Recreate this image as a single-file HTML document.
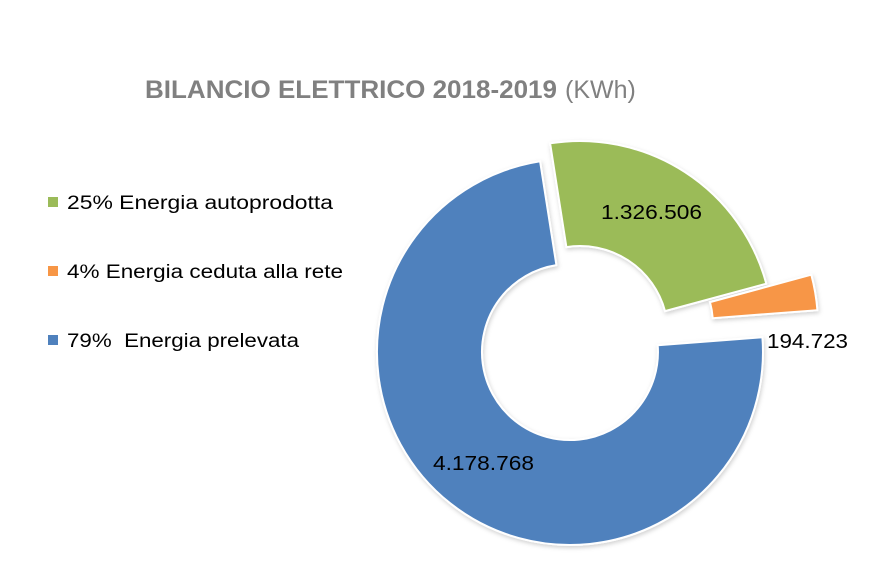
<!DOCTYPE html>
<html><head><meta charset="utf-8"><style>
body{margin:0;background:#fff;}
svg{display:block;font-family:"Liberation Sans",sans-serif;}
</style></head><body>
<svg width="888" height="575" viewBox="0 0 888 575">
<defs><filter id="sh" x="-10%" y="-10%" width="120%" height="120%"><feDropShadow dx="1" dy="2" stdDeviation="2" flood-color="#000" flood-opacity="0.18"/></filter></defs>
<text x="145" y="98" font-size="25" fill="#808080"><tspan font-weight="bold" textLength="412" lengthAdjust="spacingAndGlyphs">BILANCIO ELETTRICO 2018-2019</tspan><tspan dx="8">(KWh)</tspan></text>
<g filter="url(#sh)" stroke="#fff" stroke-width="2">
<path d="M762.4,337.2 A193,193 0 1 1 540.1,161.3 L556.4,265.1 A88,88 0 1 0 657.7,345.2 Z" fill="#4f81bd"/>
<path d="M550.1,143.3 A193,193 0 0 1 766.3,283.7 L665.0,311.1 A88,88 0 0 0 566.4,247.1 Z" fill="#9bbb59"/>
<path d="M811.3,274.7 A193,193 0 0 1 817.4,310.2 L712.7,318.2 A88,88 0 0 0 710.0,302.1 Z" fill="#f79646"/>
</g>
<g font-size="20" fill="#000">
<text x="601" y="219" textLength="101" lengthAdjust="spacingAndGlyphs">1.326.506</text>
<text x="767" y="348" textLength="81" lengthAdjust="spacingAndGlyphs">194.723</text>
<text x="433" y="470" textLength="101" lengthAdjust="spacingAndGlyphs">4.178.768</text>
</g>
<rect x="48" y="197" width="10" height="10" fill="#9bbb59"/>
<rect x="48" y="266" width="10" height="10" fill="#f79646"/>
<rect x="48" y="335" width="10" height="10" fill="#4f81bd"/>
<g font-size="19" fill="#000">
<text x="67" y="209" textLength="266" lengthAdjust="spacingAndGlyphs">25% Energia autoprodotta</text>
<text x="67" y="278" textLength="276" lengthAdjust="spacingAndGlyphs">4% Energia ceduta alla rete</text>
<text x="67" y="347" textLength="232" lengthAdjust="spacingAndGlyphs" xml:space="preserve">79%  Energia prelevata</text>
</g>
</svg>
</body></html>
